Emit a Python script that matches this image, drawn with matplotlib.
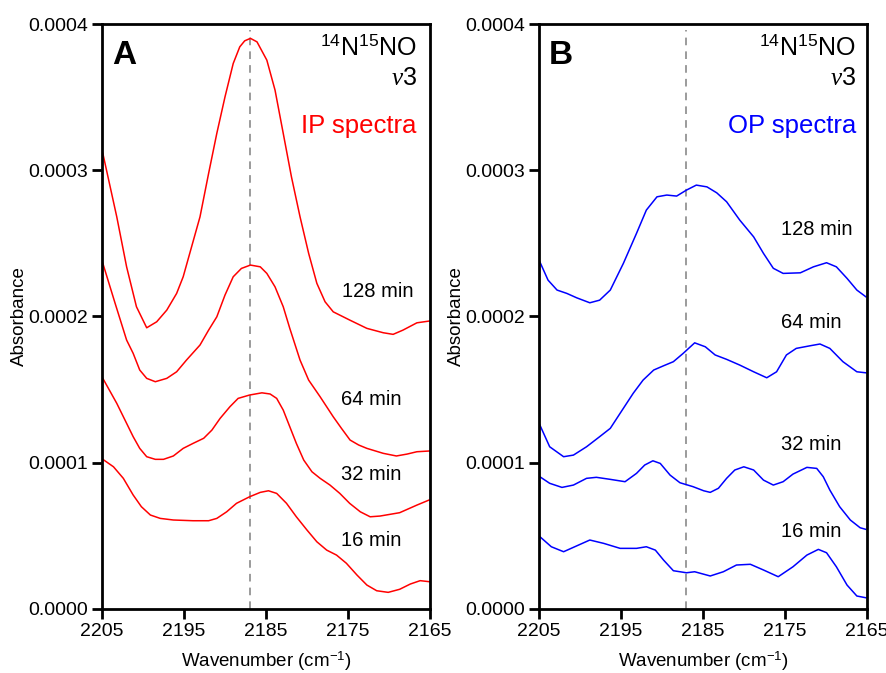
import matplotlib
matplotlib.use("Agg")
import matplotlib.pyplot as plt

plt.rcParams['font.family'] = ['Liberation Sans', 'DejaVu Sans']
plt.rcParams['mathtext.fontset'] = 'custom'
plt.rcParams['mathtext.rm'] = 'Liberation Sans'
plt.rcParams['mathtext.it'] = 'Liberation Serif:italic'

UNIT = 1e-4  # values below are in units of 1e-4 absorbance

# ---- Panel A (IP spectra) ----
ip128_w = [2204.9, 2203.2, 2202.0, 2200.8, 2199.55, 2198.33, 2197.1, 2195.9, 2195.1, 2193.05,
           2192.0, 2191.0, 2190.0, 2189.0, 2188.2, 2187.6, 2186.9, 2186.1, 2184.9, 2183.9,
           2182.9, 2181.9, 2180.85, 2179.8, 2178.8, 2177.8, 2176.8, 2174.8, 2172.7, 2170.7,
           2169.5, 2168.3, 2166.6, 2165.1]
ip128_v = [3.115, 2.681, 2.339, 2.066, 1.922, 1.963, 2.043, 2.157, 2.271, 2.681,
           2.978, 3.252, 3.502, 3.730, 3.844, 3.885, 3.902, 3.878, 3.753, 3.548,
           3.252, 2.955, 2.681, 2.431, 2.226, 2.100, 2.031, 1.975, 1.918, 1.888,
           1.877, 1.906, 1.956, 1.968]

ip64_w = [2204.9, 2203.4, 2202.0, 2201.2, 2200.4, 2199.55, 2198.5, 2197.1, 2195.9, 2194.7,
          2193.05, 2192.0, 2191.0, 2190.0, 2189.0, 2188.0, 2186.9, 2185.7, 2184.9, 2183.9,
          2182.9, 2182.1, 2180.85, 2179.8, 2178.4, 2176.8, 2175.8, 2174.75, 2173.7, 2172.7,
          2170.7, 2169.1, 2167.8, 2166.6, 2165.1]
ip64_v = [2.363, 2.089, 1.838, 1.747, 1.633, 1.576, 1.553, 1.576, 1.621, 1.701,
          1.804, 1.906, 1.997, 2.146, 2.271, 2.328, 2.351, 2.339, 2.294, 2.202,
          2.066, 1.918, 1.701, 1.564, 1.450, 1.313, 1.234, 1.154, 1.120, 1.097,
          1.063, 1.045, 1.058, 1.074, 1.079]

ip32_w = [2204.9, 2203.2, 2202.2, 2201.2, 2200.4, 2199.55, 2198.5, 2197.5, 2196.3, 2195.1,
          2193.9, 2192.6, 2191.6, 2190.6, 2189.4, 2188.4, 2187.0, 2185.5, 2184.5, 2183.7,
          2182.9, 2182.1, 2181.3, 2180.4, 2179.4, 2178.4, 2177.2, 2176.0, 2174.8, 2173.5,
          2172.3, 2171.1, 2168.7, 2166.6, 2165.1]
ip32_v = [1.576, 1.405, 1.291, 1.177, 1.097, 1.040, 1.022, 1.022, 1.045, 1.097,
          1.131, 1.166, 1.222, 1.302, 1.382, 1.439, 1.462, 1.477, 1.469, 1.439,
          1.359, 1.245, 1.131, 1.017, 0.937, 0.892, 0.846, 0.789, 0.721, 0.663,
          0.629, 0.634, 0.657, 0.709, 0.744]

ip16_w = [2204.9, 2203.6, 2202.4, 2201.2, 2200.2, 2199.1, 2197.9, 2196.3, 2193.9, 2192.0,
          2191.0, 2189.8, 2188.6, 2187.0, 2185.7, 2184.7, 2183.7, 2182.5, 2181.3, 2180.0,
          2178.8, 2177.6, 2176.4, 2175.2, 2173.9, 2172.7, 2171.5, 2170.1, 2168.7, 2167.4,
          2166.2, 2165.1]
ip16_v = [1.022, 0.971, 0.892, 0.778, 0.698, 0.641, 0.618, 0.607, 0.602, 0.602,
          0.618, 0.663, 0.721, 0.766, 0.796, 0.807, 0.789, 0.721, 0.629, 0.538,
          0.458, 0.401, 0.367, 0.311, 0.230, 0.162, 0.123, 0.112, 0.133, 0.169,
          0.192, 0.185]

# ---- Panel B (OP spectra) ----
op128_w = [2204.9, 2203.9, 2202.8, 2201.6, 2200.4, 2198.8, 2197.6, 2196.3, 2194.7, 2193.1,
           2191.9, 2190.6, 2189.4, 2188.2, 2187.0, 2185.8, 2184.5, 2183.3, 2182.1, 2180.5,
           2178.8, 2177.6, 2176.4, 2175.2, 2173.1, 2171.5, 2169.9, 2168.7, 2167.4, 2166.2,
           2165.1]
op128_v = [2.373, 2.248, 2.180, 2.157, 2.127, 2.093, 2.111, 2.180, 2.363, 2.568,
           2.727, 2.818, 2.830, 2.823, 2.864, 2.898, 2.886, 2.845, 2.784, 2.659,
           2.544, 2.431, 2.329, 2.294, 2.298, 2.339, 2.367, 2.339, 2.260, 2.180,
           2.134]

op64_w = [2204.9, 2203.7, 2202.0, 2200.8, 2199.2, 2197.6, 2196.3, 2195.1, 2193.5, 2192.3,
          2191.0, 2189.8, 2188.6, 2187.4, 2186.0, 2184.7, 2183.5, 2182.1, 2180.5, 2178.8,
          2177.2, 2176.0, 2174.8, 2173.6, 2171.9, 2170.7, 2169.5, 2167.9, 2166.2, 2165.1]
op64_v = [1.257, 1.108, 1.040, 1.051, 1.108, 1.177, 1.234, 1.337, 1.474, 1.564,
          1.633, 1.662, 1.690, 1.747, 1.819, 1.792, 1.736, 1.706, 1.667, 1.621,
          1.580, 1.621, 1.736, 1.781, 1.799, 1.811, 1.781, 1.690, 1.621, 1.614]

op32_w = [2204.9, 2203.7, 2202.2, 2200.8, 2199.2, 2198.0, 2196.3, 2194.5, 2193.1, 2192.1,
          2191.1, 2190.2, 2189.0, 2187.8, 2186.2, 2184.9, 2184.1, 2183.1, 2182.1, 2181.1,
          2180.0, 2178.8, 2177.6, 2176.4, 2175.2, 2174.0, 2172.3, 2171.1, 2170.3, 2169.5,
          2168.3, 2167.0, 2165.8, 2165.1]
op32_v = [0.903, 0.858, 0.830, 0.846, 0.892, 0.899, 0.885, 0.869, 0.926, 0.983,
          1.012, 0.994, 0.914, 0.862, 0.835, 0.807, 0.796, 0.824, 0.892, 0.949,
          0.971, 0.949, 0.880, 0.846, 0.869, 0.921, 0.967, 0.960, 0.903, 0.812,
          0.698, 0.607, 0.554, 0.543]

op16_w = [2204.9, 2203.5, 2202.0, 2200.8, 2198.8, 2197.1, 2195.1, 2193.1, 2191.9, 2190.8,
          2189.8, 2188.6, 2187.0, 2186.0, 2184.1, 2182.5, 2180.9, 2179.2, 2177.6, 2175.8,
          2174.0, 2172.3, 2170.9, 2169.9, 2168.7, 2167.4, 2166.2, 2165.1]
op16_v = [0.493, 0.424, 0.390, 0.420, 0.470, 0.447, 0.413, 0.413, 0.424, 0.401,
          0.333, 0.260, 0.246, 0.253, 0.224, 0.253, 0.299, 0.304, 0.265, 0.219,
          0.287, 0.367, 0.406, 0.383, 0.287, 0.162, 0.087, 0.075]

time_labels = ["128 min", "64 min", "32 min", "16 min"]
label_pos_A = [(2167.0, 2.134), (2168.45, 1.393), (2168.45, 0.880), (2168.45, 0.429)]
label_pos_B = [(2166.7, 2.557), (2168.1, 1.918), (2168.1, 1.086), (2168.1, 0.493)]

xticks = [2205, 2195, 2185, 2175, 2165]
yticks = [0.0, 0.0001, 0.0002, 0.0003, 0.0004]
ref_line = 2187.0

fig = plt.figure(figsize=(8.87, 6.73), dpi=100)
axA = fig.add_axes([0.115, 0.0955, 0.3698, 0.8688])
axB = fig.add_axes([0.6077, 0.0955, 0.3694, 0.8688])

panels = [
    (axA, "A", "IP spectra", "#ff0000",
     [(ip128_w, ip128_v), (ip64_w, ip64_v), (ip32_w, ip32_v), (ip16_w, ip16_v)], label_pos_A, 0.9595),
    (axB, "B", "OP spectra", "#0000ff",
     [(op128_w, op128_v), (op64_w, op64_v), (op32_w, op32_v), (op16_w, op16_v)], label_pos_B, 0.967),
]

for ax, letter, stitle, col, series, lpos, rx in panels:
    ax.axvline(ref_line, color="#808080", lw=1.1, ls=(0, (5, 4)), ymax=0.99)
    for w, v in series:
        ax.plot(w, [x * UNIT for x in v], color=col, lw=1.1, solid_joinstyle="round")
    for lab, (x, y) in zip(time_labels, lpos):
        ax.text(x, y * UNIT, lab, ha="right", va="baseline", fontsize=14.5, color="black")
    ax.set_xlim(2205, 2165)
    ax.set_ylim(0, 0.0004)
    ax.set_xticks(xticks)
    ax.set_xticklabels([str(t) for t in xticks])
    ax.set_yticks(yticks)
    ax.set_yticklabels(["%.4f" % t for t in yticks])
    ax.tick_params(direction="out", length=7, width=2, labelsize=14, pad=3)
    for s in ax.spines.values():
        s.set_linewidth(2)
    ax.set_xlabel("Wavenumber (cm$^{-1}$)", fontsize=13.5, labelpad=7)
    ax.set_ylabel("Absorbance", fontsize=13.5, labelpad=0)
    ax.text(0.03, 0.932, letter, transform=ax.transAxes, fontsize=24, fontweight="bold",
            ha="left", va="baseline")
    ax.text(rx, 0.947, r"$^{14}$N$^{15}$NO", transform=ax.transAxes, fontsize=18,
            ha="right", va="baseline")
    ax.text(rx, 0.8955, r"$\mathit{v}$3", transform=ax.transAxes, fontsize=18,
            ha="right", va="baseline")
    ax.text(rx, 0.813, stitle, transform=ax.transAxes, fontsize=18.5, color=col,
            ha="right", va="baseline")

fig.savefig("out.png", dpi=100)
